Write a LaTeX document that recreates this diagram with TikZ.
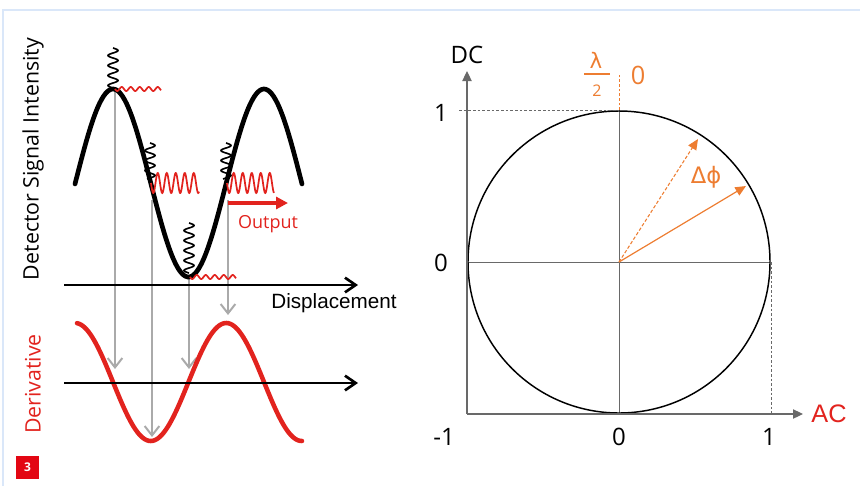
\documentclass[tikz,border=0pt]{standalone}
\usepackage{fontspec}
\setmainfont{Open Sans}
\newfontfamily\arialfont{Liberation Sans}
\newfontfamily\greekfont{DejaVu Sans}
\usetikzlibrary{arrows.meta}
\definecolor{figred}{RGB}{226,35,30}
\definecolor{figorange}{RGB}{237,125,49}
\definecolor{probegray}{RGB}{170,170,170}
\definecolor{axisgray}{RGB}{105,105,105}
\definecolor{frameblue}{RGB}{218,231,249}
\definecolor{boxred}{RGB}{227,6,19}
\tikzset{
  intensity/.style={line width=3.5pt, line cap=round},
  derivcurve/.style={figred, line width=3.4pt, line cap=round},
  probe/.style={probegray, line width=1.5pt,
    -{Straight Barb[length=7pt,width=11pt,line width=1.5pt]}},
  flataxis/.style={line width=2.2pt,
    -{Straight Barb[length=8pt,width=11pt,line width=2pt]}},
  noisein/.style={line width=1.2pt},
  noiseout/.style={figred, line width=1.3pt},
  phasoraxis/.style={axisgray, line width=0.8pt,
    -{Triangle[length=7.5pt,width=7pt]}},
  crossline/.style={axisgray, line width=0.7pt},
  guide/.style={axisgray, line width=0.7pt, dash pattern=on 2pt off 1.5pt},
  lbl/.style={inner sep=0pt}
}
\begin{document}
\begin{tikzpicture}[x=0.75pt,y=-0.75pt]
  \useasboundingbox (0,0) rectangle (860,486);
  % Moldura.
  \draw[frameblue, line width=1.5pt] (2.5,486) -- (2.5,9.5) -- (860,9.5);

  % Pontos de leitura (setas cinzentas).
  \coordinate (topA) at (115,89);   \coordinate (botA) at (115,369);
  \coordinate (topB) at (152,200);  \coordinate (botB) at (152,437);
  \coordinate (topC) at (189,277);  \coordinate (botC) at (189,369);
  \coordinate (topD) at (228,200);  \coordinate (botD) at (228,315);
  \draw[probe] (topA) -- (botA);
  \draw[probe] (topB) -- (botB);
  \draw[probe] (topC) -- (botC);
  \draw[probe] (topD) -- (botD);

  % Intensidade e derivada.
  \draw[intensity] plot[domain=75:302, samples=120, smooth]
    (\x, {183-94*cos((\x-113)/151*360)});
  \draw[derivcurve] plot[domain=77:302, samples=120, smooth]
    (\x, {382+59*sin((\x-113)/151*360)});

  % Modulacao de entrada (preto) e saida (vermelho).
  \draw[noisein] plot[domain=0:40, samples=100, smooth]
    ({113+5*sin(\x*36)}, {48+\x});
  \draw[noiseout] plot[domain=0:46, samples=100, smooth]
    ({115+\x}, {89+2*sin(\x*40)});
  \draw[noisein] plot[domain=0:36, samples=100, smooth]
    ({150+5*sin(\x*36)}, {143+\x});
  \draw[noiseout] plot[domain=0:48, samples=120, smooth]
    ({151+\x}, {183+10*sin(\x*40)});
  \draw[noisein] plot[domain=0:50, samples=120, smooth]
    ({189+5*sin(\x*36)}, {223+\x});
  \draw[noiseout] plot[domain=0:46, samples=100, smooth]
    ({190+\x}, {277+2*sin(\x*40)});
  \draw[noisein] plot[domain=0:36, samples=100, smooth]
    ({226+5*sin(\x*36)}, {143+\x});
  \draw[noiseout] plot[domain=0:47, samples=120, smooth]
    ({227+\x}, {183+10*sin(\x*40)});

  % Seta de saida.
  \coordinate (outstart) at (228,203);
  \coordinate (outend) at (288,203);
  \draw[figred, line width=2.4pt, -{Triangle[length=9pt,width=9pt]}]
    (outstart) -- (outend);
  \node[lbl, text=figred, font=\fontsize{13.5pt}{16pt}\selectfont]
    (outlab) at (268,224) {Output};

  % Eixos da esquerda.
  \coordinate (dispstart) at (64,285);
  \coordinate (dispend) at (358,285);
  \draw[flataxis] (dispstart) -- (dispend);
  \coordinate (derstart) at (64,383);
  \coordinate (derend) at (358,383);
  \draw[flataxis] (derstart) -- (derend);
  \node[lbl, font=\arialfont\fontsize{15.5pt}{18pt}\selectfont]
    (displab) at (334,303) {Displacement};
  \node[lbl, rotate=90, font=\fontsize{16pt}{19pt}\selectfont]
    (ylab) at (33,159) {Detector Signal Intensity};
  \node[lbl, rotate=90, text=figred, font=\fontsize{16pt}{19pt}\selectfont]
    (derlab) at (33,384) {Derivative};

  % Numero da figura.
  \node[fill=boxred, text=white, minimum size=17pt, inner sep=0pt,
    font=\bfseries\fontsize{9pt}{10pt}\selectfont] (fignum) at (27.5,467.5) {3};

  % Diagrama de fase.
  \coordinate (O) at (619,262);
  \coordinate (xleft) at (468,262);  \coordinate (xright) at (770,262);
  \coordinate (ytop) at (619,110);   \coordinate (ybot) at (619,414);
  \draw[crossline] (xleft) -- (xright);
  \draw[crossline] (ytop) -- (ybot);
  \draw[line width=1.1pt] (O) circle [radius=113.25pt];

  \coordinate (corner) at (467,414);
  \coordinate (dcend) at (467,71);
  \coordinate (acend) at (803,414);
  \draw[phasoraxis] (corner) -- (dcend);
  \draw[phasoraxis] (corner) -- (acend);
  \coordinate (oneleft) at (459,110);
  \coordinate (oneright) at (771,262);
  \coordinate (onebase) at (771,414);
  \draw[guide] (oneleft) -- (ytop);
  \draw[guide] (oneright) -- (onebase);
  \coordinate (phasetop) at (619,73);
  \draw[figorange, line width=0.7pt, dash pattern=on 2pt off 1.5pt]
    (ytop) -- (phasetop);

  % Fasores.
  \coordinate (refend) at (698,139);
  \coordinate (shiftend) at (746,186);
  \draw[figorange, line width=0.8pt, dash pattern=on 2.5pt off 1.5pt,
    -{Triangle[length=8pt,width=7pt]}] (O) -- (refend);
  \draw[figorange, line width=0.9pt,
    -{Triangle[length=8pt,width=7pt]}] (O) -- (shiftend);

  % Rotulos.
  \node[lbl, font=\fontsize{18pt}{21pt}\selectfont] (dclab) at (467,55) {DC};
  \node[lbl, font=\fontsize{18pt}{21pt}\selectfont] (oneY) at (441,113) {1};
  \node[lbl, font=\fontsize{18pt}{21pt}\selectfont] (zeroY) at (441,263) {0};
  \node[lbl, font=\fontsize{18pt}{21pt}\selectfont] (minusX) at (444,437) {-1};
  \node[lbl, font=\fontsize{18pt}{21pt}\selectfont] (zeroX) at (619,437) {0};
  \node[lbl, font=\fontsize{18pt}{21pt}\selectfont] (oneX) at (769,437) {1};
  \node[lbl, text=figred, font=\arialfont\fontsize{19pt}{22pt}\selectfont]
    (aclab) at (829,414) {AC};
  \node[lbl, text=figorange, font=\greekfont\fontsize{16pt}{19pt}\selectfont]
    (lam) at (596,60.5) {λ};
  \draw[figorange, line width=1pt] (584,74) -- (610,74);
  \node[lbl, text=figorange, font=\fontsize{12pt}{14pt}\selectfont]
    (halfden) at (597,91) {2};
  \node[lbl, text=figorange, font=\fontsize{19pt}{22pt}\selectfont]
    (zerophase) at (638,75) {0};
  \node[lbl, text=figorange, font=\greekfont\fontsize{17pt}{20pt}\selectfont]
    (dphi) at (706,177) {Δϕ};
\end{tikzpicture}
\end{document}
